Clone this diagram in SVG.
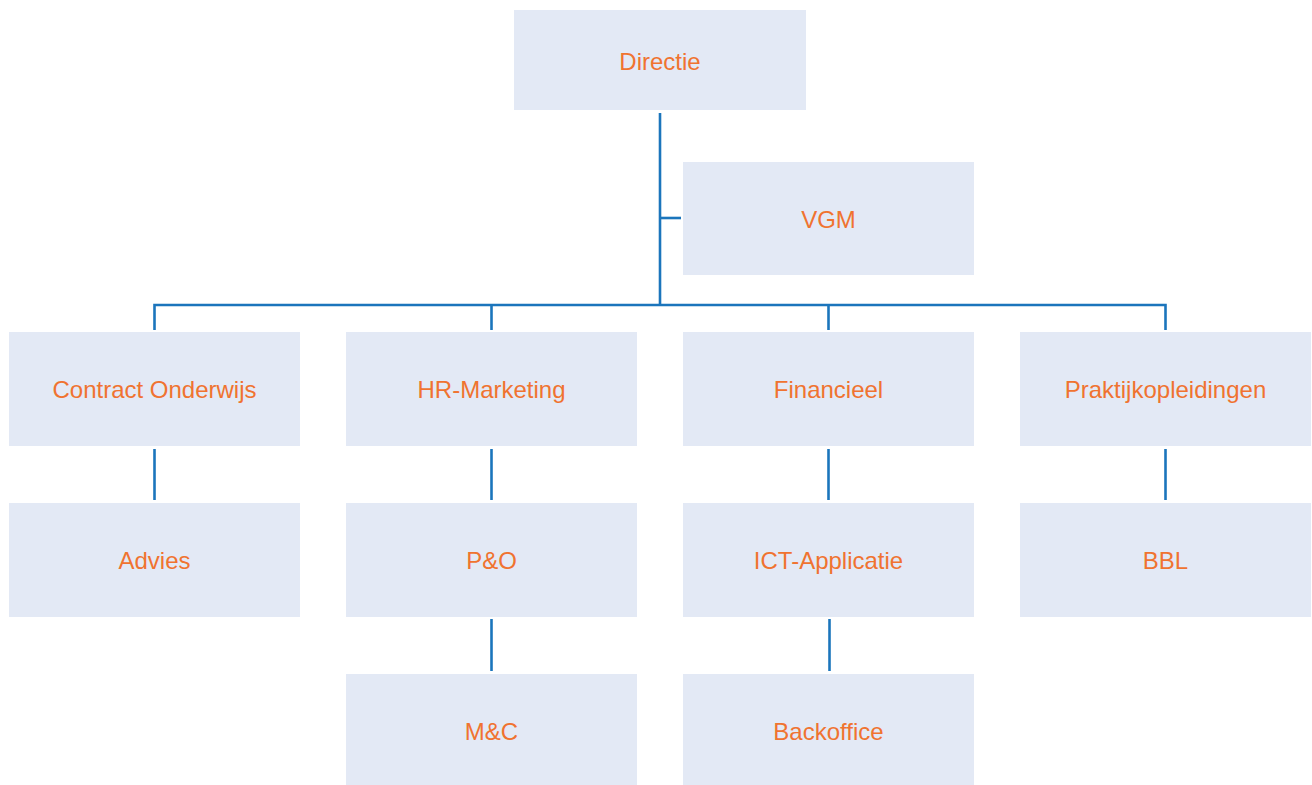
<svg xmlns="http://www.w3.org/2000/svg" width="1312" height="785" viewBox="0 0 1312 785">
<style>
.box{fill:#E3E9F5}
.lbl{font-family:"Liberation Sans",Arial,sans-serif;font-size:24px;fill:#F07330;text-anchor:middle}
.con{fill:none;stroke:#1B75BC;stroke-width:2.6;stroke-linecap:butt}
</style>
<rect width="1312" height="785" fill="#FFFFFF"/>
<g id="connectors">
<path class="con" d="M660 113V305"/>
<path class="con" d="M660 218H681"/>
<path class="con" d="M154.5 330V305H1165.5V330"/>
<path class="con" d="M491.5 305V330"/>
<path class="con" d="M828.5 305V330"/>
<path class="con" d="M154.5 449V500"/>
<path class="con" d="M491.5 449V500"/>
<path class="con" d="M828.5 449V500"/>
<path class="con" d="M1165.5 449V500"/>
<path class="con" d="M491.5 619V671"/>
<path class="con" d="M829.5 619V671"/>
</g>
<g id="directie"><rect class="box" x="514" y="10" width="292" height="100"/><text class="lbl" x="660" y="70">Directie</text></g>
<g id="vgm"><rect class="box" x="683" y="162" width="291" height="113"/><text class="lbl" x="828.5" y="228">VGM</text></g>
<g id="contract-onderwijs"><rect class="box" x="9" y="332" width="291" height="114"/><text class="lbl" x="154.5" y="398">Contract Onderwijs</text></g>
<g id="hr-marketing"><rect class="box" x="346" y="332" width="291" height="114"/><text class="lbl" x="491.5" y="398">HR-Marketing</text></g>
<g id="financieel"><rect class="box" x="683" y="332" width="291" height="114"/><text class="lbl" x="828.5" y="398">Financieel</text></g>
<g id="praktijkopleidingen"><rect class="box" x="1020" y="332" width="291" height="114"/><text class="lbl" x="1165.5" y="398">Praktijkopleidingen</text></g>
<g id="advies"><rect class="box" x="9" y="503" width="291" height="114"/><text class="lbl" x="154.5" y="569">Advies</text></g>
<g id="p-o"><rect class="box" x="346" y="503" width="291" height="114"/><text class="lbl" x="491.5" y="569">P&amp;O</text></g>
<g id="ict-applicatie"><rect class="box" x="683" y="503" width="291" height="114"/><text class="lbl" x="828.5" y="569">ICT-Applicatie</text></g>
<g id="bbl"><rect class="box" x="1020" y="503" width="291" height="114"/><text class="lbl" x="1165.5" y="569">BBL</text></g>
<g id="m-c"><rect class="box" x="346" y="674" width="291" height="111"/><text class="lbl" x="491.5" y="740">M&amp;C</text></g>
<g id="backoffice"><rect class="box" x="683" y="674" width="291" height="111"/><text class="lbl" x="828.5" y="740">Backoffice</text></g>
</svg>
